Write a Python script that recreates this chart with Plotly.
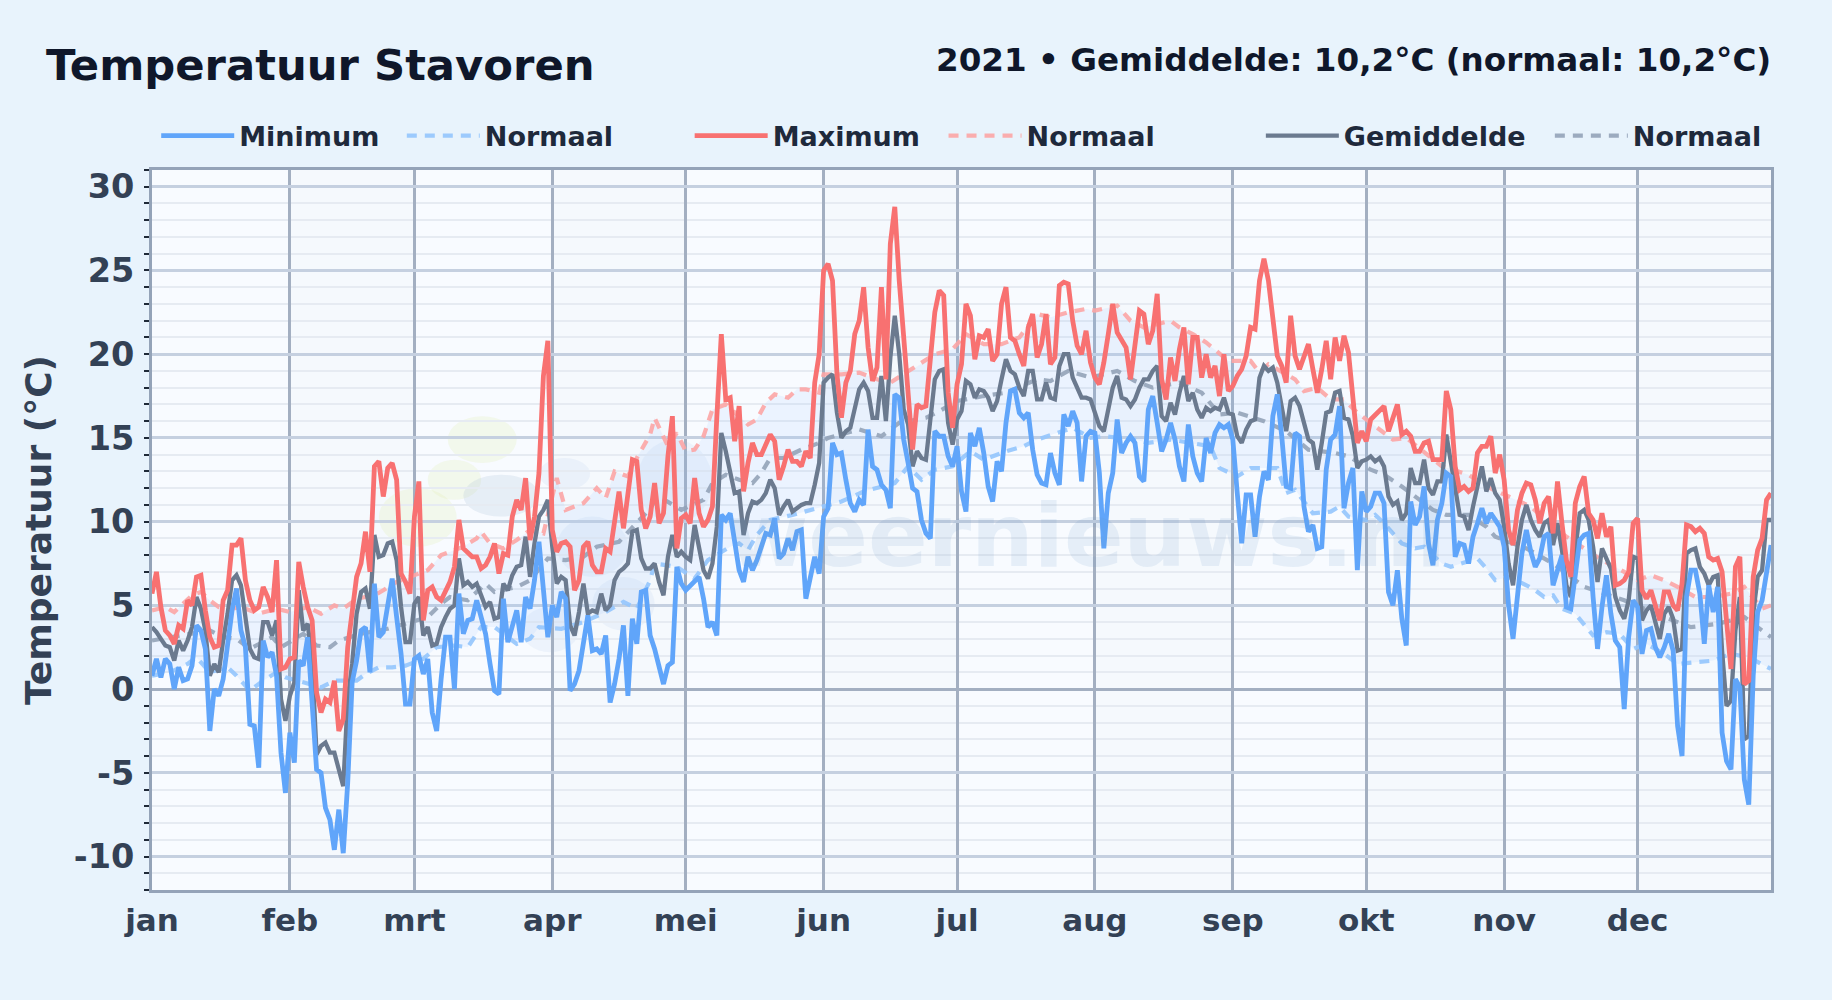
import plotly.graph_objects as go

month_labels = ["jan","feb","mrt","apr","mei","jun","jul","aug","sep","okt","nov","dec"]
month_starts = [0,31,59,90,120,151,181,212,243,273,304,334]
y_ticks = [-10,-5,0,5,10,15,20,25,30]

maximum = [
5.7,7.0,4.9,3.5,3.2,2.7,3.8,3.6,5.3,5.0,
6.7,6.8,4.7,3.1,2.5,2.6,5.3,5.9,8.6,8.6,
9.0,6.5,5.3,4.7,4.9,6.1,5.5,4.6,7.7,1.2,
1.3,1.8,1.9,7.6,6.1,4.9,4.1,-0.2,-1.4,-0.6,
-0.8,0.5,-2.5,-1.8,2.5,4.7,6.7,7.5,9.4,7.0,
13.3,13.6,11.5,13.2,13.5,12.5,6.9,6.4,5.7,10.3,
12.4,4.1,5.9,6.1,5.5,5.3,5.9,6.4,7.3,10.1,
8.4,8.1,7.9,7.9,7.2,7.4,7.9,8.7,6.9,8.1,
8.0,10.3,11.3,10.7,12.6,8.9,10.3,12.9,18.7,20.8,
9.5,8.2,8.7,8.8,8.5,5.9,6.5,8.5,8.8,7.4,
7.0,7.0,8.4,8.2,10.1,11.8,9.6,11.9,13.7,13.6,
10.7,9.6,10.3,12.3,9.9,10.5,13.9,16.3,8.4,10.2,
10.4,9.9,12.6,10.5,9.7,10.1,10.9,16.3,21.2,17.3,
17.4,14.8,16.9,11.8,13.5,14.7,14.0,14.0,14.6,15.2,
14.8,12.5,13.3,14.3,13.6,13.6,13.3,14.2,13.8,18.3,
20.0,25.0,25.4,24.4,18.8,16.2,18.3,19.0,21.2,22.0,
24.0,20.4,18.4,19.2,24.0,18.5,26.6,28.8,24.4,21.0,
18.3,14.3,17.0,16.8,16.9,19.4,22.5,23.8,23.5,17.7,
15.6,18.2,19.4,23.0,22.3,19.7,21.1,21.0,21.5,19.6,
20.0,23.0,24.0,21.0,20.8,20.0,19.3,21.6,22.4,19.8,
20.6,22.4,19.4,19.8,24.1,24.3,24.2,22.0,20.5,20.0,
21.4,19.5,18.6,18.2,19.5,21.2,23.0,21.3,20.8,20.4,
18.5,20.8,22.6,22.4,20.6,21.4,23.6,18.5,17.3,19.8,
18.4,20.3,21.6,18.2,21.0,21.0,18.6,20.0,18.6,19.3,
17.5,20.0,17.8,18.1,18.7,19.1,19.9,21.6,21.5,24.4,
25.7,24.4,22.3,19.9,19.3,18.3,22.3,19.9,19.1,19.8,
20.6,19.1,17.7,19.1,20.8,18.5,21.0,19.6,21.1,20.1,
17.7,14.7,15.4,14.8,16.1,16.4,16.6,16.9,15.4,16.1,
17.0,15.2,15.4,15.1,14.2,14.2,14.7,14.8,13.7,13.7,
13.7,17.8,16.7,13.3,11.9,12.1,11.8,12.0,14.1,14.5,
14.5,15.1,12.9,14.0,12.5,9.5,8.6,10.7,11.7,12.3,
12.2,11.3,9.9,11.1,11.5,9.3,12.4,9.9,7.7,6.7,
11.1,12.1,12.7,10.5,10.1,9.0,10.5,9.1,9.7,6.2,
6.3,6.5,7.0,9.9,10.2,5.9,5.4,5.9,5.0,4.1,
5.8,5.8,5.0,4.7,6.3,9.8,9.7,9.4,9.6,9.3,
7.9,7.7,7.8,7.0,4.1,1.2,7.3,7.9,0.3,0.5,
6.7,8.3,9.0,11.3,11.7]

minimum = [
0.8,1.8,0.7,1.8,1.5,0,1.3,0.5,0.6,1.4,
3.8,3.5,2.4,-2.5,0,-0.4,0.6,2.5,4.7,6,
3.5,2.5,-2.1,-2.2,-4.7,2.9,1.9,2.2,0.8,-3.8,
-6.2,-2.6,-4.4,1.7,1.4,3.1,-0.6,-4.8,-5,-7.1,
-7.8,-9.6,-7.2,-9.8,-5.6,0.4,1.7,3.5,3.7,1,
6.3,3.1,3.4,4.9,6.6,4.3,2.1,-0.9,-0.9,1.8,
2,0.9,1.8,-1.4,-2.5,0.6,3.1,3.1,0,5.7,
3.3,4.1,4.2,5.3,4.3,3.3,1.5,-0.1,-0.3,5.4,
2.8,3.9,4.7,2.8,5.5,4.8,6.5,8.8,5.7,3.1,
5,4.3,5.8,5.4,-0.1,0.3,1.1,2.8,4.4,2.3,
2.4,2.1,3.2,-0.8,0.3,1.8,3.8,-0.4,4.2,2.7,
5.8,5.9,3.2,2.4,1.2,0.3,1.4,1.6,7.3,6.3,
5.9,6.2,6.5,6.7,5.4,3.7,4,3.2,10.4,10.1,
10.5,8.7,7.1,6.4,7.9,7.1,7.7,8.5,9.3,9.2,
10.2,7.8,8.1,9,8.3,9.4,9.5,5.4,6.5,7.9,
6.9,10.3,10.8,14.7,14,14.1,12.5,11.1,10.6,11.3,
11,15.5,13.3,13.1,12.2,11.9,10.8,17.6,17.4,14.9,
13.5,12,11.8,10.1,9.3,9,15.4,15.1,15.1,13.9,
13.3,14.5,11.8,10.6,15.3,14.5,15.6,14.1,12.1,11.2,
13.6,13,15.9,17.8,17.9,16.5,16.2,16.5,14.3,12.8,
12.3,12.2,14.1,12.9,12.2,16.4,15.7,16.6,15.9,12.4,
15.1,15.4,15.3,12.9,8.4,11.7,12.9,16.1,14.1,14.7,
15.1,14.7,12.7,12.4,16.7,17.5,15.9,14.2,14.9,15.9,
14.9,13.3,12.4,15.8,13.9,12.9,12.4,15,14.1,15.3,
15.8,15.6,15.8,14.9,11.7,8.7,11.6,11.6,9.1,11.5,
13,12.5,16.3,17.6,15.1,12.1,12,15.3,15.1,10.9,
9.4,9.8,8.4,8.5,13.1,14.9,15.2,16.9,10.8,12.3,
13.2,7.1,11.8,10.6,10.9,11.7,11.7,11.1,5.8,5,
7.1,4.2,2.6,11.2,9.8,10.3,12.1,8.7,7.4,10.1,
11.1,12.9,12.7,7.9,8.7,8.6,7.5,9.1,9.9,10.8,
9.9,10.5,10.1,9.7,8.5,5,3,5.5,8.1,9.5,
8.2,7.3,7.8,9.1,9.3,6.2,7.1,8,4.9,4.8,
6.8,8.9,9.2,9.3,5.5,2.4,4.9,6.8,4.5,2.9,
2.5,-1.2,3.1,5.3,4.9,2.1,3.5,3.6,2.5,1.9,
2.5,3.3,2.3,-2.2,-4,5.5,7.1,7.1,5.7,2.7,
6.2,4.6,6.1,-2.6,-4.3,-4.8,0.6,0.1,-5.4,-6.9,
0.8,4.6,5.3,7.1,8.6]

gemiddelde = [
3.7,3.4,3,2.6,2.5,1.7,2.9,2.3,2.9,3.7,
5.5,4.8,3.5,0.8,1.5,1,2.9,4.5,6.5,6.8,
6.2,4.3,2.4,1.9,1.8,4,4,3.2,4.1,-0.6,
-1.9,-0.4,0.4,5.9,3.5,3.9,1.7,-3.9,-3.4,-3.2,
-3.8,-3.8,-4.7,-5.8,-0.6,1.5,4.5,5.8,6,4.8,
9.2,7.9,8,8.7,8.8,7.7,4.9,2.8,2.8,5.1,
5.5,3.2,3.7,2.6,2.7,3.7,4.3,4.8,5,7.8,
6.2,6.4,6.1,6.3,5.6,4.9,5.2,4.2,4.3,6.3,
5.9,6.8,7.3,7.4,9.1,6.7,8.7,10.3,10.7,11.3,
8.5,6.3,6.7,6.5,3.8,3.2,4.6,6.3,4.5,4.7,
4.6,5.7,4.7,5,6.5,7,7.2,7.5,9.4,9.5,
7.8,7.2,7.2,7.5,6.4,5.6,7.9,9.2,7.9,8.2,
7.9,7.7,9.8,8.5,7.1,6.6,7.5,9.7,15.3,14.2,
12.9,11.7,11.8,9.2,10.5,11.2,11.1,11.3,11.7,12.5,
12,10.4,10.9,11.3,10.6,10.8,11,11.1,11.1,12.2,
13.5,18.3,18.6,18.8,16.5,15,15.4,15.6,16.9,17.9,
18.3,17.8,16.2,16.2,18.7,16,19.8,22.3,20,16.7,
15.8,13.3,14.2,13.8,13.7,16.1,18.5,19,19.1,15.9,
14.6,16.1,16.6,18.4,18.2,17.4,17.9,17.8,17.4,16.6,
17.2,18.5,19.7,19,18.8,18,17.5,19,19,17.3,
17.3,18.3,17.4,17.3,19.3,20,20,18.6,18,17.4,
17.4,17.3,16.5,15.7,15.4,16.7,18,18.7,17.4,17.3,
16.9,17.3,18,18.5,18.5,19,19.3,16.3,16,17.1,
16.4,17.7,18.7,17.2,17.7,16.7,16.2,16.8,16.6,16.8,
16.7,17.4,16.5,16.4,15.1,14.7,15.5,16,16.1,18.6,
19.3,19,19.2,18.3,16.9,15.4,17.2,17.4,16.9,15.8,
14.9,14.7,13.1,14.7,16.5,16.6,17.7,17.8,16.2,16.1,
15.1,13.2,13.6,13.7,13.9,13.6,13.8,13.3,11.5,11,
11.2,10.1,10.5,13.2,12.3,12.3,13.7,12,11.6,12.4,
12.4,15.2,13.5,11.9,10.4,10.3,9.5,10.9,12.1,13.3,
11.8,12.6,11.7,11.3,9.7,7.5,6.2,8.5,10.1,11,
10.1,9.5,9.1,9.9,10.1,8.6,9.9,8.3,6.2,5.5,
8.3,10.5,10.7,10.1,8.5,6.4,8.4,7.8,7.2,5.5,
4.7,4.2,5.3,7.9,7.8,4.1,4.7,5,4.1,3,
4.5,4.9,4.2,2.3,2.4,8.1,8.3,8.4,7.3,6.9,
6.2,6.7,6.8,2.3,-1,-0.7,3.5,5.5,-3,-2.8,
4.5,6.7,7.1,10.1,10.1]

normal_max_days = [0,3,5,7,9,11,13,15,18,20,24,28,31,35,38,41,43,46,50,52,55,62,65,67,70,73,74,76,79,82,85,88,91,93,97,100,102,104,107,109,112,113,116,118,120,122,124,126,129,134,136,138,140,143,145,147,150,151,155,159,163,166,172,174,176,180,183,187,191,195,199,202,206,210,212,217,220,223,229,231,234,237,242,247,249,251,257,259,262,265,268,271,276,279,282,287,290,296,300,305,310,315,318,322,326,331,334,337,340,343,347,351,355,358,362,364]
normal_max = [4.7,4.9,4.6,5.1,5.6,5.8,5.3,4.9,4.8,4.9,4.5,4.8,4.6,4.9,4.5,5.0,4.8,5.4,5.6,5.9,6.4,7.1,8.0,8.2,8.5,9.0,9.4,8.7,8.4,8.9,9.5,9.3,12.6,10.7,11.1,12.0,11.4,13.0,12.7,13.8,15.2,16.2,14.5,15.3,14.2,14.3,15.1,16.7,17.0,15.8,16.1,17.1,17.6,17.4,17.9,17.9,17.7,18.8,18.8,18.9,18.5,18.3,19.3,19.6,20.0,20.3,21.2,20.6,20.6,21.0,22.4,22.2,22.5,22.7,22.6,22.9,22.0,21.6,22.0,21.6,21.2,20.7,19.6,19.6,18.9,19.4,18.5,17.8,18.0,17.3,17.3,16.5,15.5,14.9,15.0,13.9,13.3,12.8,12.1,11.5,10.9,9.7,9.1,8.4,7.7,7.0,6.5,6.8,6.5,6.1,5.5,5.5,5.7,6.1,4.8,5.0]

normal_min_days = [0,4,8,10,13,17,19,22,25,28,30,34,38,41,46,48,51,54,57,61,64,68,71,74,77,82,85,87,92,97,102,106,109,112,113,118,122,125,130,132,134,136,139,144,148,151,155,160,163,167,170,173,176,180,184,187,192,196,199,207,211,214,221,224,229,233,238,240,244,247,250,253,255,257,261,265,267,269,273,275,277,281,284,286,290,292,298,300,302,305,309,311,313,315,317,320,324,327,330,333,336,340,343,347,351,355,359,364]
normal_min = [0.8,1.0,1.5,1.9,1.0,1.3,0.8,-0.1,0.5,1.0,0.7,0.4,0.1,0.5,0.5,0.9,1.3,1.3,1.4,1.8,2.5,2.6,2.5,3.7,3.7,2.7,3.0,3.7,3.6,4.0,4.6,5.2,4.8,6.5,7.5,7.3,6.6,7.7,8.5,8.7,8.3,9.2,10.1,10.4,10.7,10.9,11.2,11.8,12.0,12.3,13.3,12.5,13.1,13.3,14.2,13.7,14.2,14.5,14.9,15.6,15.0,15.1,14.9,14.7,14.9,14.7,14.5,13.2,12.7,13.2,13.2,13.2,11.7,11.9,10.5,10.6,10.9,10.3,10.1,10.4,9.9,8.7,8.4,8.5,7.5,7.3,7.8,7.2,6.5,6.7,6.2,5.9,5.5,5.6,4.8,4.5,3.2,3.4,3.3,2.4,2.7,2.1,1.5,1.6,1.7,2.1,1.9,1.2]

normal_mean_days = [0,13,16,19,22,27,29,34,37,40,42,47,53,62,65,67,71,75,77,82,85,89,93,97,100,105,111,114,119,124,126,129,132,135,137,139,142,146,150,152,159,164,168,174,177,181,187,192,199,202,206,211,217,221,225,231,236,240,244,250,255,260,266,269,274,277,281,284,288,291,296,300,302,309,315,322,331,340,346,352,358,364]
normal_mean = [2.9,3.5,3.1,3.0,2.4,3.1,2.5,3.3,2.6,2.5,2.9,3.3,3.6,4.3,5.1,5.5,5.3,6.3,5.8,6.1,6.5,7.8,7.7,7.9,8.5,8.8,10.5,11.5,10.7,11.3,12.3,12.8,12.5,12.3,12.9,13.8,13.8,14.3,14.7,15.0,15.5,15.1,15.9,16.2,16.6,17.2,17.5,17.7,18.5,18.4,19.0,18.6,19.0,18.4,18.0,18.3,17.7,16.4,16.5,16.0,15.4,14.3,14.1,13.9,13.1,12.8,12.1,11.5,10.7,10.4,10.4,9.7,9.1,8.4,7.5,6.1,5.3,4.3,3.7,3.9,4.3,3.1]

days = list(range(len(maximum)))

BG = "#e8f3fc"
FONT = "DejaVu Sans"
fig = go.Figure()

def add_line(x, y, name, color, width, dash, legend):
    fig.add_trace(go.Scatter(x=x, y=y, mode="lines", name=name, legend=legend,
                             line=dict(color=color, width=width, dash=dash), hoverinfo="skip"))

fig.add_trace(go.Scatter(x=normal_min_days, y=normal_min, mode="lines", line=dict(width=0), showlegend=False, hoverinfo="skip"))
fig.add_trace(go.Scatter(x=normal_max_days, y=normal_max, mode="lines", line=dict(width=0), fill="tonexty",
                         fillcolor="rgba(147,197,253,0.13)", showlegend=False, hoverinfo="skip"))

DASH = "10px,8px"
add_line(normal_min_days, normal_min, "Normaal", "rgba(147,197,253,0.9)", 4.2, DASH, "legend3")
add_line(normal_max_days, normal_max, "Normaal", "rgba(252,165,165,0.9)", 4.2, DASH, "legend5")
add_line(normal_mean_days, normal_mean, "Normaal", "rgba(148,163,184,0.9)", 4.2, DASH, "legend7")
add_line(days, gemiddelde, "Gemiddelde", "#6b7a8f", 4.3, "solid", "legend6")
add_line(days, minimum, "Minimum", "#60a5fa", 4.8, "solid", "legend2")
add_line(days, maximum, "Maximum", "#f87171", 4.8, "solid", "legend4")

shapes = []
for a, b in zip(month_starts[1::2], month_starts[2::2] + [364]):
    shapes.append(dict(type="rect", xref="x", yref="y domain", x0=a, x1=b, y0=0, y1=1, layer="below",
                       line_width=0, fillcolor="rgba(226,232,240,0.10)"))
YEL = "rgba(225,235,170,0.22)"
GRY = "rgba(170,190,215,0.22)"
BLU = "rgba(170,200,235,0.14)"
for (x0, x1, y0, y1, col) in [
    (66.5, 82, 13.5, 16.3, YEL),
    (51, 68.5, 8.5, 12, YEL),
    (62, 74, 11.3, 13.7, YEL),
    (70, 87, 10.3, 12.8, GRY),
    (87, 98.5, 11.9, 13.8, BLU),
    (91, 107, 6.7, 10.3, BLU),
    (83, 96, 2.2, 4.9, BLU),
    (99, 113, 3.5, 6.7, BLU),
    (109, 126, 9.9, 14.9, BLU),
]:
    shapes.append(dict(type="circle", xref="x", yref="y", x0=x0, x1=x1, y0=y0, y1=y1, layer="below",
                       line_width=0, fillcolor=col))

legend_font = dict(size=27, color="#1e293b", family=FONT, weight="bold")
def legend_at(x):
    return dict(orientation="h", x=x, xanchor="left", y=1.047, yanchor="middle", itemwidth=73,
                bgcolor="rgba(0,0,0,0)", font=legend_font)

fig.update_layout(
    width=1832, height=1000,
    margin=dict(l=152, r=61, t=169.5, b=110, pad=0),
    paper_bgcolor=BG, plot_bgcolor="#f8fbff",
    font=dict(family=FONT, color="#334155"),
    shapes=shapes,
    hovermode=False,
    legend2=legend_at(0.0026), legend3=legend_at(0.1543), legend4=legend_at(0.3321),
    legend5=legend_at(0.4889), legend6=legend_at(0.6849), legend7=legend_at(0.8634),
    xaxis=dict(range=[0, 364], tickmode="array", tickvals=month_starts, ticktext=month_labels,
               showgrid=True, gridcolor="#a3afc1", gridwidth=2.8, ticks="", zeroline=False,
               showline=True, linecolor="#94a3b8", linewidth=3, mirror=True, ticklabelstandoff=1,
               tickfont=dict(size=31, color="#334155", family=FONT, weight="bold"), tickangle=0),
    yaxis=dict(range=[-12, 31], tickmode="array", tickvals=y_ticks, ticktext=[str(v) for v in y_ticks],
               showgrid=True, gridcolor="#c5d0e0", gridwidth=2.6, ticks="", zeroline=True, zerolinecolor="#a3afc1", zerolinewidth=2.8,
               showline=True, linecolor="#94a3b8", linewidth=3, mirror=True, ticklabelstandoff=8,
               tickfont=dict(size=33.5, color="#334155", family=FONT, weight="bold"),
               minor=dict(dtick=1, tick0=0, ticks="outside", ticklen=5, tickcolor="#1f2937", tickwidth=1.5,
                          showgrid=True, gridcolor="#e6ebf2", gridwidth=2),
               title=dict(text="Temperatuur (°C)", standoff=12,
                          font=dict(size=36, color="#334155", family=FONT, weight="bold"))),
    annotations=[
        dict(text="Temperatuur Stavoren", xref="paper", yref="paper", x=-0.0668, y=1.146, xanchor="left", yanchor="middle",
             showarrow=False, font=dict(size=43.3, color="#0f172a", family=FONT, weight="bold")),
        dict(text="2021 • Gemiddelde: 10,2°C (normaal: 10,2°C)", xref="paper", yref="paper", x=1.0015, y=1.153, xanchor="right", yanchor="middle",
             showarrow=False, font=dict(size=32.6, color="#0f172a", family=FONT, weight="bold")),
        dict(text="weernieuws.nl", xref="x", yref="y", x=210, y=9.2, xanchor="center", yanchor="middle",
             showarrow=False, font=dict(size=88, color="rgba(100,150,200,0.12)", family=FONT, weight="bold")),
    ],
)

fig.write_html("out.html", config=dict(displayModeBar=False),
               post_script="document.body.style.margin='0';document.body.style.background='%s';" % BG)
